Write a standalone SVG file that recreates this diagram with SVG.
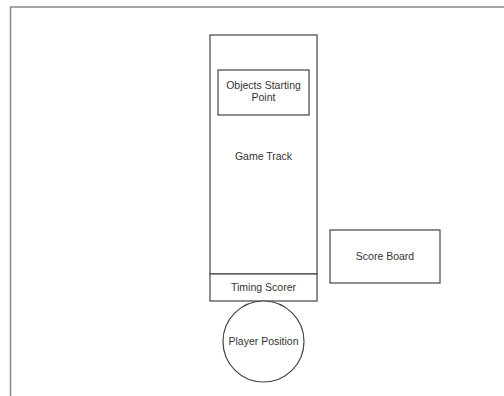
<svg xmlns="http://www.w3.org/2000/svg" width="504" height="396" viewBox="0 0 504 396">
<style>
.box{fill:#fff;stroke:#444;stroke-width:1.2}
.frame{fill:none;stroke:#888;stroke-width:1.5}
text{font-family:"Liberation Sans",Arial,sans-serif;font-size:10.5px;fill:#333;text-anchor:middle}
</style>
<rect width="504" height="396" fill="#fff"/>
<path class="frame" d="M10.5 396 V7 H504"/>
<g id="game-track">
<rect class="box" x="210" y="35" width="107" height="239"/>
<text x="263.5" y="160">Game Track</text>
</g>
<g id="objects-starting-point">
<rect class="box" x="218" y="70" width="91" height="45"/>
<text x="263.5" y="89">Objects Starting</text>
<text x="263.5" y="101">Point</text>
</g>
<g id="timing-scorer">
<rect class="box" x="210" y="274" width="107" height="27"/>
<text x="263.5" y="291">Timing Scorer</text>
</g>
<g id="player-position">
<circle class="box" cx="263.5" cy="341.5" r="40.5"/>
<text x="263.5" y="345">Player Position</text>
</g>
<g id="score-board">
<rect class="box" x="330" y="230" width="110" height="53"/>
<text x="385" y="260">Score Board</text>
</g>
<g id="connectors"></g>
</svg>
